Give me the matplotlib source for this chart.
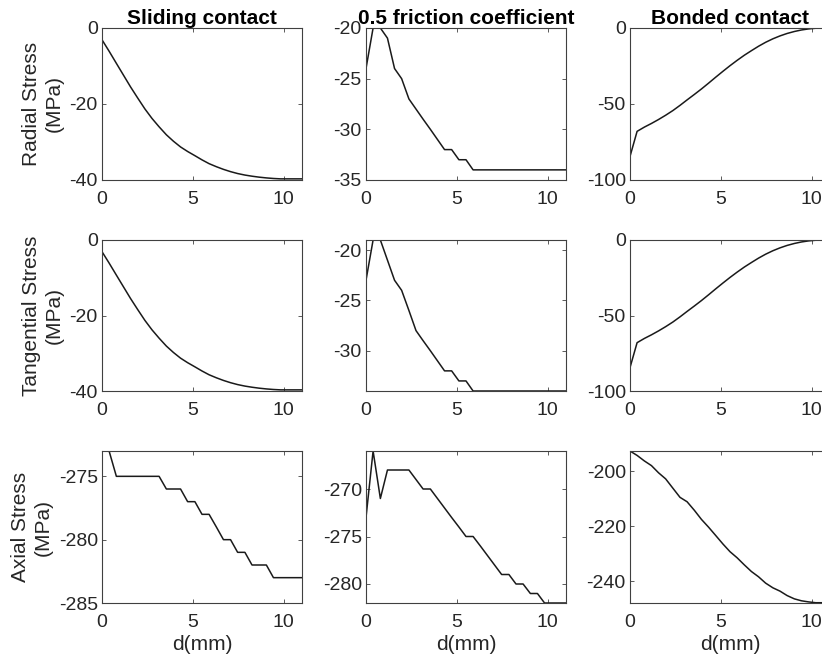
import matplotlib
matplotlib.use("Agg")
import matplotlib.pyplot as plt

plt.rcParams['font.family'] = ['Liberation Sans', 'DejaVu Sans']
plt.rcParams['axes.unicode_minus'] = False

# ---- data ----
d_mm = [0.00, 0.39, 0.79, 1.18, 1.57, 1.96, 2.36, 2.75, 3.14, 3.54, 3.93, 4.32,
        4.71, 5.11, 5.50, 5.89, 6.29, 6.68, 7.07, 7.46, 7.86, 8.25, 8.64, 9.04,
        9.43, 9.82, 10.21, 10.61, 11.00]

col_titles = ["Sliding contact", "0.5 friction coefficient", "Bonded contact"]
row_labels = ["Radial Stress\n(MPa)", "Tangential Stress\n(MPa)", "Axial Stress\n(MPa)"]

radial_sliding = [-3.1, -6.1, -9.3, -12.4, -15.5, -18.4, -21.3, -23.8, -26.0, -28.1,
                  -29.8, -31.3, -32.5, -33.6, -34.7, -35.7, -36.5, -37.2, -37.8,
                  -38.3, -38.7, -39.0, -39.25, -39.45, -39.6, -39.7, -39.7, -39.7, -39.7]
radial_friction = [-24, -20, -20, -21, -24, -25, -27, -28, -29, -30, -31, -32, -32,
                   -33, -33, -34, -34, -34, -34, -34, -34, -34, -34, -34, -34, -34,
                   -34, -34, -34]
radial_bonded = [-84.5, -68, -65.2, -62.8, -60.2, -57.4, -54.3, -50.9, -47.3, -43.7,
                 -40.1, -36.3, -32.4, -28.5, -24.8, -21.3, -17.9, -14.9, -12.0, -9.4,
                 -7.1, -5.2, -3.6, -2.3, -1.3, -0.6, -0.15, 0, 0]

tangential_sliding = [-3.1, -6.1, -9.3, -12.4, -15.5, -18.4, -21.3, -23.8, -26.0, -28.1,
                      -29.8, -31.3, -32.5, -33.6, -34.7, -35.7, -36.5, -37.2, -37.8,
                      -38.3, -38.7, -39.0, -39.25, -39.45, -39.6, -39.7, -39.7, -39.7, -39.7]
tangential_friction = [-23, -19, -19, -21, -23, -24, -26, -28, -29, -30, -31, -32, -32,
                       -33, -33, -34, -34, -34, -34, -34, -34, -34, -34, -34, -34, -34,
                       -34, -34, -34]
tangential_bonded = [-84.5, -68, -65.2, -62.8, -60.2, -57.4, -54.3, -50.9, -47.3, -43.7,
                     -40.1, -36.3, -32.4, -28.5, -24.8, -21.3, -17.9, -14.9, -12.0, -9.4,
                     -7.1, -5.2, -3.6, -2.3, -1.3, -0.6, -0.15, 0, 0]

axial_sliding = [-273, -273, -275, -275, -275, -275, -275, -275, -275, -276, -276, -276,
                 -277, -277, -278, -278, -279, -280, -280, -281, -281, -282, -282, -282,
                 -283, -283, -283, -283, -283]
axial_friction = [-273, -266, -271, -268, -268, -268, -268, -269, -270, -270, -271, -272,
                  -273, -274, -275, -275, -276, -277, -278, -279, -279, -280, -280, -281,
                  -281, -282, -282, -282, -282]
axial_bonded = [-192.7, -194.3, -196.3, -198.0, -200.6, -202.8, -206.2, -209.5, -211.1,
                -214.2, -217.5, -220.3, -223.3, -226.4, -229.2, -231.4, -234.0, -236.4,
                -238.3, -240.6, -242.3, -243.5, -245.1, -246.3, -247.0, -247.4, -247.7,
                -247.7, -247.7]

series = [[radial_sliding, radial_friction, radial_bonded],
          [tangential_sliding, tangential_friction, tangential_bonded],
          [axial_sliding, axial_friction, axial_bonded]]

ylims = [[(-40, 0), (-35, -20), (-100, 0)],
         [(-40, 0), (-34, -19), (-100, 0)],
         [(-285, -273), (-282, -266), (-247.8, -192.7)]]
yticks = [[[-40, -20, 0], [-35, -30, -25, -20], [-100, -50, 0]],
          [[-40, -20, 0], [-30, -25, -20], [-100, -50, 0]],
          [[-285, -280, -275], [-280, -275, -270], [-240, -220, -200]]]
xticks = [0, 5, 10]

# ---- layout ----
W, H = 822, 660
fig = plt.figure(figsize=(W / 100, H / 100), dpi=100)
lefts = [102, 366, 630]
tops = [28, 240, 451]
bottoms = [180, 391, 603]
aw = 200

txt = '#262626'
for r in range(3):
    for c in range(3):
        ax = fig.add_axes([lefts[c] / W, 1 - bottoms[r] / H, aw / W,
                           (bottoms[r] - tops[r]) / H])
        ax.plot(d_mm, series[r][c], color='#1a1a1a', lw=1.1)
        ax.set_xlim(0, 11)
        ax.set_ylim(*ylims[r][c])
        ax.set_xticks(xticks)
        ax.set_yticks(yticks[r][c])
        ax.tick_params(direction='in', length=3, width=0.6, top=True, right=True,
                       labelsize=14, colors='#404040', labelcolor=txt)
        ax.tick_params(axis='x', pad=8)
        ax.tick_params(axis='y', pad=3)
        for s in ax.spines.values():
            s.set_color('#404040')
            s.set_linewidth(0.8)
        if r == 0:
            ax.set_title(col_titles[c], fontsize=15, fontweight='bold', color='black', pad=3)
        if c == 0:
            ax.set_ylabel(row_labels[r], fontsize=15, color=txt, labelpad=4, linespacing=1.25)
        if r == 2:
            ax.set_xlabel("d(mm)", fontsize=15, color=txt, labelpad=3)

fig.savefig("out.png", dpi=100)
